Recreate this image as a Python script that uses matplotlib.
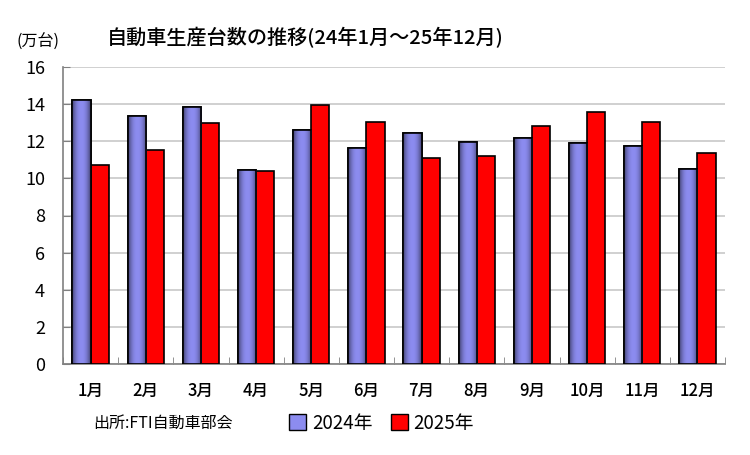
import numpy as np
import matplotlib.pyplot as plt
from matplotlib.patches import Patch

plt.rcParams['font.family'] = ['Noto Sans CJK JP', 'DejaVu Sans']

months = ['1月', '2月', '3月', '4月', '5月', '6月', '7月', '8月', '9月', '10月', '11月', '12月']
y2024 = [14.2, 13.35, 13.85, 10.47, 12.62, 11.63, 12.47, 11.95, 12.2, 11.88, 11.72, 10.5]
y2025 = [10.7, 11.55, 12.98, 10.42, 13.93, 13.02, 11.08, 11.23, 12.8, 13.58, 13.02, 11.38]

blue = '#8c8cf0'
red = '#ff0000'

fig = plt.figure(figsize=(7.5, 4.55), dpi=100)
ax = fig.add_axes([63 / 750, 1 - 364 / 455, 662 / 750, 297 / 455])

x = np.arange(len(months))
w = 0.33
b1 = ax.bar(x - w / 2, y2024, w, color=blue, edgecolor='black', linewidth=1.2, zorder=3)
b2 = ax.bar(x + w / 2, y2025, w, color=red, edgecolor='black', linewidth=1.2, zorder=3)

# cylinder-like shading on the blue bars
grad = np.linspace(-1, 1, 64)
shade = 1 - 0.55 * np.abs(grad) ** 2.2
base = np.array([0x8c, 0x8c, 0xf0]) / 255
img = np.clip(shade[None, :, None] * base[None, None, :], 0, 1)
for p in b1:
    x0, y0 = p.get_x(), p.get_y()
    im = ax.imshow(img, extent=(x0, x0 + p.get_width(), y0, y0 + p.get_height()),
                   aspect='auto', zorder=3.5)
    im.set_clip_path(p)
    ax.add_patch(plt.Rectangle((x0, y0), p.get_width(), p.get_height(),
                               fill=False, edgecolor='black', linewidth=1.2, zorder=4))

ax.set_xlim(-0.5, len(months) - 0.5)
ax.set_ylim(0, 16)
ax.set_yticks(np.arange(0, 17, 2))
ax.yaxis.grid(True, color='#c8c8c8', linewidth=1.2, zorder=0)
ax.set_axisbelow(True)

ax.set_xticks(x)
ax.set_xticklabels(months, fontsize=12, fontweight='medium')
ax.set_xticks(np.arange(-0.5, len(months)), minor=True)
ax.tick_params(axis='x', which='major', length=0, pad=13)
ax.tick_params(axis='x', which='minor', direction='in', length=5, color='#808080')
ax.tick_params(axis='y', direction='in', length=5, color='#808080', labelsize=13, pad=13)

for s in ['top', 'right']:
    ax.spines[s].set_visible(False)
for s in ['left', 'bottom']:
    ax.spines[s].set_color('#808080')
    ax.spines[s].set_linewidth(1.2)

fig.text(305 / 750, 1 - 38 / 455, '自動車生産台数の推移(24年1月～25年12月)',
         ha='center', va='center', fontsize=14.5, fontweight='medium')
fig.text(38 / 750, 1 - 42 / 455, '(万台)', ha='center', va='center', fontsize=11.5)
fig.text(93 / 750, 1 - 423 / 455, '出所:FTI自動車部会', ha='left', va='center', fontsize=11.5)

handles = [Patch(facecolor=blue, edgecolor='black', label='2024年'),
           Patch(facecolor=red, edgecolor='black', label='2025年')]
fig.legend(handles=handles, loc='center left', bbox_to_anchor=(280 / 750, 1 - 423 / 455),
           ncol=2, frameon=False, fontsize=13.5, handlelength=0.9, handleheight=0.9,
           handletextpad=0.3, columnspacing=1.0, borderpad=0)

fig.savefig('out.png', dpi=100)
